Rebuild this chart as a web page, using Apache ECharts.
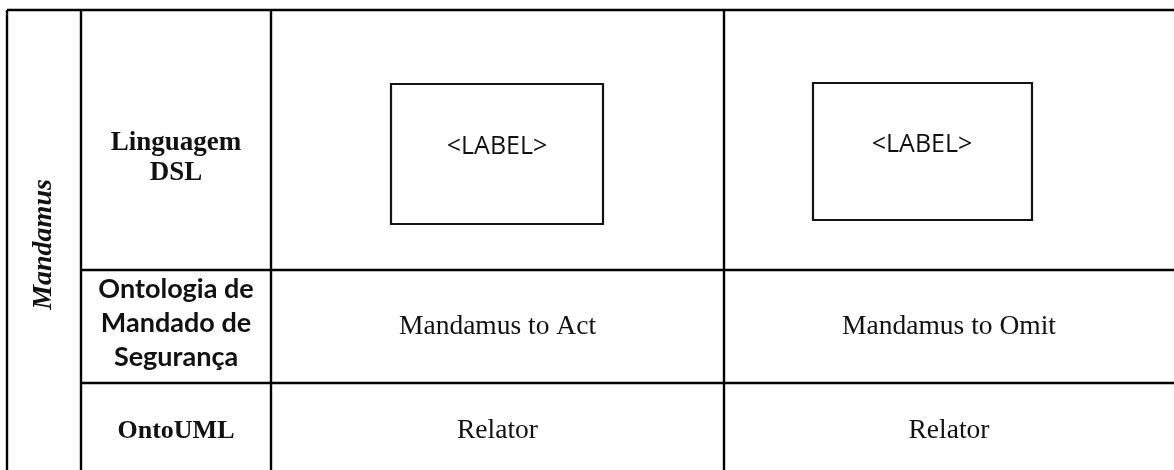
<!DOCTYPE html>
<html>
<head>
<meta charset="utf-8">
<script src="https://cdn.jsdelivr.net/npm/echarts@6/dist/echarts.min.js"></script>
<style>
  html, body { margin: 0; padding: 0; background: #fff; }
  #chart { width: 1174px; height: 470px; }
</style>
</head>
<body>
<div id="chart"></div>
<script>
// ---- data (texts of the table) ----
const groupLabel = 'Mandamus';
const rowHeaders = ['Linguagem\nDSL', 'Ontologia de\nMandado de\nSegurança', 'OntoUML'];
const dslLabels = ['<LABEL>', '<LABEL>'];
const ontologyTerms = ['Mandamus to Act', 'Mandamus to Omit'];
const ontoUMLTerms = ['Relator', 'Relator'];

// ---- layout (axis units = pixels) ----
const COL_EDGES = [7, 81, 271, 724, 1178];
const ROW_EDGES = [10, 270, 383, 479];
const ROW_TEXT_Y = [158, 327, 431];
const HEADER_TEXT_Y = [158, 323, 431];
const DSL_BOXES = [[391, 84, 603, 224], [813, 83, 1032, 220]];
const DSL_TEXT_POS = [[497, 147], [922, 145]];

const STYLES = {
  group:  { fontFamily: 'Liberation Serif', fontSize: 28, fontWeight: 'bold', fontStyle: 'italic', lineHeight: 30 },
  header: { fontFamily: 'Liberation Serif', fontSize: 27, fontWeight: 'bold', fontStyle: 'normal', lineHeight: 30 },
  headerSmall: { fontFamily: 'Liberation Serif', fontSize: 26, fontWeight: 'bold', fontStyle: 'normal', lineHeight: 30 },
  headerSans: { fontFamily: 'Lato', fontSize: 27, fontWeight: 'bold', fontStyle: 'normal', lineHeight: 34 },
  body:   { fontFamily: 'Liberation Serif', fontSize: 27.5, fontWeight: 'normal', fontStyle: 'normal', lineHeight: 30 },
  label:  { fontFamily: 'Open Sans', fontSize: 25, fontWeight: 'normal', fontStyle: 'normal', lineHeight: 30 }
};

const colCenter = i => (COL_EDGES[i] + COL_EDGES[i + 1]) / 2;
const HEADER_STYLE_KEYS = ['header', 'headerSans', 'headerSmall'];

// cells: [x, y, text, styleKey, rotated]
const cells = [];
cells.push([colCenter(0), (ROW_EDGES[0] + ROW_EDGES[3]) / 2, groupLabel, 'group', 1]);
rowHeaders.forEach((t, r) => {
  cells.push([colCenter(1), HEADER_TEXT_Y[r], t, HEADER_STYLE_KEYS[r], 0]);
});
dslLabels.forEach((t, c) => {
  cells.push([DSL_TEXT_POS[c][0], DSL_TEXT_POS[c][1], t, 'label', 0]);
});
ontologyTerms.forEach((t, c) => {
  cells.push([(COL_EDGES[2 + c] + (c === 1 ? 1174 : COL_EDGES[3])) / 2, ROW_TEXT_Y[1], t, 'body', 0]);
});
ontoUMLTerms.forEach((t, c) => {
  cells.push([(COL_EDGES[2 + c] + (c === 1 ? 1174 : COL_EDGES[3])) / 2, ROW_TEXT_Y[2], t, 'body', 0]);
});

// grid lines: [x1, y1, x2, y2]
const lines = [];
lines.push([COL_EDGES[0], ROW_EDGES[0], COL_EDGES[4], ROW_EDGES[0]]);
lines.push([COL_EDGES[1], ROW_EDGES[1], COL_EDGES[4], ROW_EDGES[1]]);
lines.push([COL_EDGES[1], ROW_EDGES[2], COL_EDGES[4], ROW_EDGES[2]]);
lines.push([COL_EDGES[0], ROW_EDGES[3], COL_EDGES[4], ROW_EDGES[3]]);
COL_EDGES.forEach(x => lines.push([x, ROW_EDGES[0], x, ROW_EDGES[3]]));

const chart = echarts.init(document.getElementById('chart'), null, { renderer: 'canvas' });

chart.setOption({
  animation: false,
  backgroundColor: '#ffffff',
  grid: { left: 0, right: 0, top: 0, bottom: 0 },
  xAxis: { type: 'value', min: 0, max: 1174, show: false },
  yAxis: { type: 'value', min: 0, max: 470, inverse: true, show: false },
  series: [
    {
      type: 'custom',
      coordinateSystem: 'cartesian2d',
      data: lines,
      encode: { x: [0, 2], y: [1, 3] },
      clip: false,
      renderItem: function (params, api) {
        const p1 = api.coord([api.value(0), api.value(1)]);
        const p2 = api.coord([api.value(2), api.value(3)]);
        return {
          type: 'line',
          shape: { x1: p1[0], y1: p1[1], x2: p2[0], y2: p2[1] },
          style: { stroke: '#000000', lineWidth: 2.4 }
        };
      }
    },
    {
      type: 'custom',
      coordinateSystem: 'cartesian2d',
      data: DSL_BOXES,
      encode: { x: [0, 2], y: [1, 3] },
      renderItem: function (params, api) {
        const p1 = api.coord([api.value(0), api.value(1)]);
        const p2 = api.coord([api.value(2), api.value(3)]);
        return {
          type: 'rect',
          shape: { x: p1[0], y: p1[1], width: p2[0] - p1[0], height: p2[1] - p1[1] },
          style: { stroke: '#141414', lineWidth: 2.2, fill: 'none' }
        };
      }
    },
    {
      type: 'custom',
      coordinateSystem: 'cartesian2d',
      data: cells.map((c, i) => [c[0], c[1], i]),
      encode: { x: 0, y: 1 },
      renderItem: function (params, api) {
        const cell = cells[api.value(2)];
        const p = api.coord([api.value(0), api.value(1)]);
        const st = STYLES[cell[3]];
        return {
          type: 'text',
          x: p[0],
          y: p[1],
          rotation: cell[4] ? Math.PI / 2 : 0,
          style: {
            x: 0, y: 0,
            text: cell[2],
            fill: '#111111',
            align: 'center',
            verticalAlign: 'middle',
            fontFamily: st.fontFamily,
            fontSize: st.fontSize,
            fontWeight: st.fontWeight,
            fontStyle: st.fontStyle,
            lineHeight: st.lineHeight
          }
        };
      }
    }
  ]
});
</script>
</body>
</html>
